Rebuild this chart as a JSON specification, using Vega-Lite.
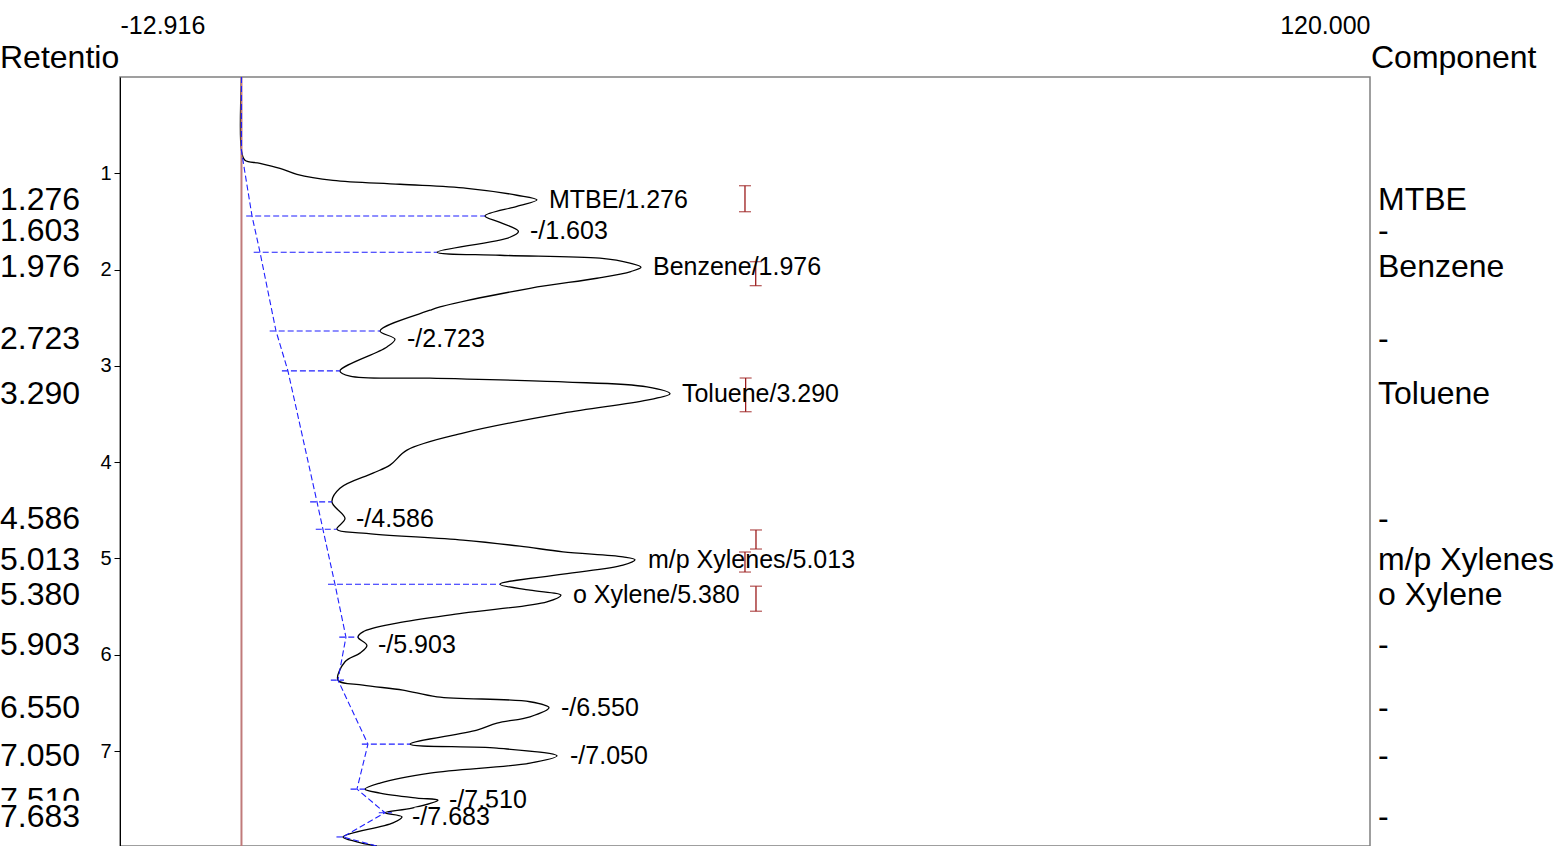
{
  "$schema": "https://vega.github.io/schema/vega-lite/v6.json",
  "width": 1250,
  "height": 769,
  "autosize": {"type": "none"},
  "padding": {"left": 120, "top": 77, "right": 187, "bottom": 0},
  "background": "white",
  "config": {
    "font": "Liberation Sans",
    "view": {"stroke": "#808080", "strokeWidth": 1.5},
    "axis": {"grid": false, "labelColor": "black", "tickColor": "black", "domainColor": "black"},
    "axisX": {"labelFontSize": 25, "ticks": false, "domain": false, "labelPadding": 39, "labelFlush": true},
    "axisY": {"labelFontSize": 20, "tickSize": 6, "labelPadding": 3, "domainWidth": 1}
  },
  "datasets": {
    "trace": [
      {"v": 0, "t": 0}, {"v": 0, "t": 0.761}, {"v": 0.37, "t": 0.865}, {"v": 1.97, "t": 0.896},
      {"v": 4.09, "t": 0.948}, {"v": 5.9, "t": 1.01}, {"v": 9.73, "t": 1.073}, {"v": 16.85, "t": 1.114},
      {"v": 23.98, "t": 1.156}, {"v": 29.29, "t": 1.228}, {"v": 31.42, "t": 1.276}, {"v": 29.29, "t": 1.343},
      {"v": 25.89, "t": 1.443}, {"v": 27.49, "t": 1.509}, {"v": 29.45, "t": 1.603}, {"v": 28.55, "t": 1.664},
      {"v": 20.79, "t": 1.82}, {"v": 27.49, "t": 1.851}, {"v": 38.12, "t": 1.882}, {"v": 41.31, "t": 1.934},
      {"v": 42.48, "t": 1.976}, {"v": 41.4, "t": 2.02}, {"v": 37.8, "t": 2.09}, {"v": 30.68, "t": 2.194},
      {"v": 21.11, "t": 2.388}, {"v": 20.05, "t": 2.422}, {"v": 14.73, "t": 2.637}, {"v": 16.32, "t": 2.723},
      {"v": 15.47, "t": 2.803}, {"v": 10.47, "t": 3.052}, {"v": 11.54, "t": 3.107}, {"v": 20.05, "t": 3.128},
      {"v": 34.19, "t": 3.166}, {"v": 43.12, "t": 3.218}, {"v": 45.57, "t": 3.29}, {"v": 43.12, "t": 3.356},
      {"v": 34.19, "t": 3.491}, {"v": 23.55, "t": 3.698}, {"v": 17.6, "t": 3.875}, {"v": 15.79, "t": 4.031},
      {"v": 13.98, "t": 4.114}, {"v": 10.47, "t": 4.27}, {"v": 9.62, "t": 4.412}, {"v": 11.01, "t": 4.586},
      {"v": 10.15, "t": 4.696}, {"v": 12.92, "t": 4.737}, {"v": 23.55, "t": 4.81}, {"v": 29.61, "t": 4.872},
      {"v": 34.19, "t": 4.931}, {"v": 40.57, "t": 4.983}, {"v": 41.85, "t": 5.013}, {"v": 40.57, "t": 5.07},
      {"v": 34.19, "t": 5.163}, {"v": 27.49, "t": 5.267}, {"v": 30.68, "t": 5.329}, {"v": 33.97, "t": 5.38},
      {"v": 32.48, "t": 5.45}, {"v": 23.55, "t": 5.568}, {"v": 16.53, "t": 5.672}, {"v": 12.92, "t": 5.762},
      {"v": 12.39, "t": 5.817}, {"v": 13.34, "t": 5.903}, {"v": 12.6, "t": 5.983}, {"v": 11.01, "t": 6.073},
      {"v": 10.26, "t": 6.263}, {"v": 12.92, "t": 6.315}, {"v": 17.17, "t": 6.367}, {"v": 20.79, "t": 6.437},
      {"v": 30.68, "t": 6.488}, {"v": 32.7, "t": 6.55}, {"v": 30.68, "t": 6.644}, {"v": 27.17, "t": 6.71},
      {"v": 25.04, "t": 6.782}, {"v": 17.92, "t": 6.928}, {"v": 27.17, "t": 6.97}, {"v": 33.55, "t": 7.05},
      {"v": 30.68, "t": 7.125}, {"v": 20.05, "t": 7.229}, {"v": 14.73, "t": 7.332}, {"v": 13.14, "t": 7.395},
      {"v": 14.73, "t": 7.436}, {"v": 18.66, "t": 7.488}, {"v": 20.89, "t": 7.51}, {"v": 18.13, "t": 7.592},
      {"v": 15.26, "t": 7.641}, {"v": 17.07, "t": 7.683}, {"v": 16.11, "t": 7.746}, {"v": 10.79, "t": 7.892},
      {"v": 12.28, "t": 7.942}, {"v": 14.41, "t": 7.987}
    ],
    "baseline": [
      {"v": 0, "t": 0}, {"v": 0, "t": 0.771}, {"v": 1.12, "t": 1.443}, {"v": 1.97, "t": 1.82},
      {"v": 3.67, "t": 2.637}, {"v": 4.94, "t": 3.052}, {"v": 8.03, "t": 4.412}, {"v": 8.66, "t": 4.696},
      {"v": 9.94, "t": 5.267}, {"v": 11.11, "t": 5.817}, {"v": 10.26, "t": 6.263}, {"v": 13.45, "t": 6.928},
      {"v": 12.28, "t": 7.395}, {"v": 15.26, "t": 7.641}, {"v": 10.79, "t": 7.892}, {"v": 14.41, "t": 7.987}
    ],
    "drops": [
      {"t": 1.443, "xa": 0.5, "xb": 25.89}, {"t": 1.82, "xa": 1.3, "xb": 20.79},
      {"t": 2.637, "xa": 3.0, "xb": 14.73}, {"t": 3.052, "xa": 4.3, "xb": 10.47},
      {"t": 4.412, "xa": 7.3, "xb": 9.62}, {"t": 4.696, "xa": 7.9, "xb": 10.15},
      {"t": 5.267, "xa": 9.2, "xb": 27.49}, {"t": 5.817, "xa": 10.4, "xb": 12.39},
      {"t": 6.263, "xa": 9.5, "xb": 10.9}, {"t": 6.928, "xa": 12.8, "xb": 17.92},
      {"t": 7.395, "xa": 11.6, "xb": 13.14}, {"t": 7.641, "xa": 14.6, "xb": 16.0},
      {"t": 7.892, "xa": 10.1, "xb": 11.0}
    ],
    "bars": [
      {"v": 53.54, "t": 1.129, "t2": 1.399}, {"v": 54.68, "t": 1.918, "t2": 2.167},
      {"v": 53.61, "t": 3.126, "t2": 3.476}, {"v": 54.71, "t": 4.704, "t2": 4.902},
      {"v": 53.54, "t": 4.933, "t2": 5.141}, {"v": 54.71, "t": 5.288, "t2": 5.548}
    ],
    "peaks": [
      {"t": 1.276, "v": 31.42, "rt": "1.276", "comp": "MTBE", "label": "MTBE/1.276"},
      {"t": 1.603, "v": 29.4, "rt": "1.603", "comp": "-", "label": "-/1.603"},
      {"t": 1.976, "v": 42.48, "rt": "1.976", "comp": "Benzene", "label": "Benzene/1.976"},
      {"t": 2.723, "v": 16.33, "rt": "2.723", "comp": "-", "label": "-/2.723"},
      {"t": 3.29, "v": 45.56, "rt": "3.290", "comp": "Toluene", "label": "Toluene/3.290"},
      {"t": 4.586, "v": 10.9, "rt": "4.586", "comp": "-", "label": "-/4.586"},
      {"t": 5.013, "v": 41.95, "rt": "5.013", "comp": "m/p Xylenes", "label": "m/p Xylenes/5.013"},
      {"t": 5.38, "v": 33.97, "rt": "5.380", "comp": "o Xylene", "label": "o Xylene/5.380"},
      {"t": 5.903, "v": 13.24, "rt": "5.903", "comp": "-", "label": "-/5.903"},
      {"t": 6.55, "v": 32.7, "rt": "6.550", "comp": "-", "label": "-/6.550"},
      {"t": 7.05, "v": 33.66, "rt": "7.050", "comp": "-", "label": "-/7.050"},
      {"t": 7.51, "v": 20.79, "rt": "7.510", "comp": "", "label": "-/7.510"},
      {"t": 7.683, "v": 16.86, "rt": "7.683", "comp": "-", "label": "-/7.683"}
    ]
  },
  "layer": [
    {
      "data": {"name": "trace"},
      "mark": {"type": "line", "color": "black", "strokeWidth": 1.3, "interpolate": "catmull-rom"},
      "encoding": {
        "x": {"field": "v", "type": "quantitative", "title": null,
          "scale": {"domain": [-12.916, 120], "nice": false, "zero": false},
          "axis": {"orient": "top", "values": [-12.916, 120], "format": ".3f",
            "labelExpr": "replace(datum.label, '\u2212', '-')", "labelFlush": true,
            "ticks": false, "domain": false, "grid": false, "title": null, "labelFontSize": 25,
            "labelColor": "black", "labelPadding": 39}},
        "y": {"field": "t", "type": "quantitative", "title": null,
          "scale": {"domain": [0, 7.986], "nice": false, "zero": false, "reverse": true},
          "axis": {"orient": "left", "values": [1, 2, 3, 4, 5, 6, 7], "format": "d", "tickSize": 6, "labelPadding": 3,
            "labelFontSize": 20, "labelColor": "black", "tickColor": "black", "domainColor": "black",
            "grid": false, "title": null}},
        "order": {"field": "t", "type": "quantitative"}
      }
    },
    {
      "mark": {"type": "rule", "color": "#c07a7a", "strokeWidth": 2},
      "data": {"values": [{"z": 0}]},
      "encoding": {
        "x": {"field": "z", "type": "quantitative", "title": null, "scale": {"domain": [-12.916, 120], "nice": false, "zero": false}}
      }
    },
    {
      "data": {"name": "bars"},
      "mark": {"type": "rule", "color": "#9b1c1c", "strokeWidth": 1.3},
      "encoding": {
        "x": {"field": "v", "type": "quantitative", "title": null, "scale": {"domain": [-12.916, 120], "nice": false, "zero": false}},
        "y": {"field": "t", "type": "quantitative", "title": null, "scale": {"domain": [0, 7.986], "nice": false, "zero": false, "reverse": true}},
        "y2": {"field": "t2"}
      }
    },
    {
      "data": {"name": "bars"},
      "mark": {"type": "tick", "color": "#9b1c1c", "orient": "horizontal", "size": 12, "thickness": 1.3},
      "encoding": {
        "x": {"field": "v", "type": "quantitative", "title": null, "scale": {"domain": [-12.916, 120], "nice": false, "zero": false}},
        "y": {"field": "t", "type": "quantitative", "title": null, "scale": {"domain": [0, 7.986], "nice": false, "zero": false, "reverse": true}}
      }
    },
    {
      "data": {"name": "bars"},
      "mark": {"type": "tick", "color": "#9b1c1c", "orient": "horizontal", "size": 12, "thickness": 1.3},
      "encoding": {
        "x": {"field": "v", "type": "quantitative", "title": null, "scale": {"domain": [-12.916, 120], "nice": false, "zero": false}},
        "y": {"field": "t2", "type": "quantitative", "title": null, "scale": {"domain": [0, 7.986], "nice": false, "zero": false, "reverse": true}}
      }
    },
    {
      "data": {"name": "drops"},
      "mark": {"type": "rule", "color": "#1f1fff", "strokeWidth": 1.1, "strokeDash": [6, 3]},
      "encoding": {
        "x": {"field": "xa", "type": "quantitative", "title": null, "scale": {"domain": [-12.916, 120], "nice": false, "zero": false}},
        "x2": {"field": "xb"},
        "y": {"field": "t", "type": "quantitative", "title": null, "scale": {"domain": [0, 7.986], "nice": false, "zero": false, "reverse": true}}
      }
    },
    {
      "data": {"name": "baseline"},
      "mark": {"type": "line", "color": "#1f1fff", "strokeWidth": 1.1, "strokeDash": [6, 3]},
      "encoding": {
        "x": {"field": "v", "type": "quantitative", "title": null, "scale": {"domain": [-12.916, 120], "nice": false, "zero": false}},
        "y": {"field": "t", "type": "quantitative", "title": null, "scale": {"domain": [0, 7.986], "nice": false, "zero": false, "reverse": true}},
        "order": {"field": "t", "type": "quantitative"}
      }
    },
    {
      "data": {"name": "peaks"},
      "transform": [{"filter": "datum.rt != '7.683'"}],
      "mark": {"type": "text", "align": "left", "baseline": "middle", "dx": 12, "fontSize": 25, "color": "black"},
      "encoding": {
        "x": {"field": "v", "type": "quantitative", "title": null, "scale": {"domain": [-12.916, 120], "nice": false, "zero": false}},
        "y": {"field": "t", "type": "quantitative", "title": null, "scale": {"domain": [0, 7.986], "nice": false, "zero": false, "reverse": true}},
        "text": {"field": "label"}
      }
    },
    {
      "data": {"name": "peaks"},
      "transform": [{"filter": "datum.rt != '7.683'"}],
      "mark": {"type": "text", "align": "left", "baseline": "middle", "fontSize": 32, "color": "black"},
      "encoding": {
        "x": {"datum": -25.676, "type": "quantitative", "title": null, "scale": {"domain": [-12.916, 120], "nice": false, "zero": false}},
        "y": {"field": "t", "type": "quantitative", "title": null, "scale": {"domain": [0, 7.986], "nice": false, "zero": false, "reverse": true}},
        "text": {"field": "rt"}
      }
    },
    {
      "data": {"values": [{"k": 1}]},
      "mark": {"type": "rect", "color": "white", "opacity": 1},
      "encoding": {
        "x": {"datum": -25.676, "type": "quantitative", "title": null, "scale": {"domain": [-12.916, 120], "nice": false, "zero": false}},
        "x2": {"datum": -16.9},
        "y": {"datum": 7.515, "type": "quantitative", "title": null, "scale": {"domain": [0, 7.986], "nice": false, "zero": false, "reverse": true}},
        "y2": {"datum": 7.86}
      }
    },
    {
      "data": {"values": [{"k": 1}]},
      "mark": {"type": "rect", "color": "white", "opacity": 1},
      "encoding": {
        "x": {"datum": 18.4, "type": "quantitative", "title": null, "scale": {"domain": [-12.916, 120], "nice": false, "zero": false}},
        "x2": {"datum": 26.9},
        "y": {"datum": 7.585, "type": "quantitative", "title": null, "scale": {"domain": [0, 7.986], "nice": false, "zero": false, "reverse": true}},
        "y2": {"datum": 7.8}
      }
    },
    {
      "data": {"name": "peaks"},
      "transform": [{"filter": "datum.rt == '7.683'"}],
      "mark": {"type": "text", "align": "left", "baseline": "middle", "dx": 12, "fontSize": 25, "color": "black"},
      "encoding": {
        "x": {"field": "v", "type": "quantitative", "title": null, "scale": {"domain": [-12.916, 120], "nice": false, "zero": false}},
        "y": {"field": "t", "type": "quantitative", "title": null, "scale": {"domain": [0, 7.986], "nice": false, "zero": false, "reverse": true}},
        "text": {"field": "label"}
      }
    },
    {
      "data": {"name": "peaks"},
      "transform": [{"filter": "datum.rt == '7.683'"}],
      "mark": {"type": "text", "align": "left", "baseline": "middle", "fontSize": 32, "color": "black"},
      "encoding": {
        "x": {"datum": -25.676, "type": "quantitative", "title": null, "scale": {"domain": [-12.916, 120], "nice": false, "zero": false}},
        "y": {"field": "t", "type": "quantitative", "title": null, "scale": {"domain": [0, 7.986], "nice": false, "zero": false, "reverse": true}},
        "text": {"field": "rt"}
      }
    },
    {
      "data": {"name": "peaks"},
      "mark": {"type": "text", "align": "left", "baseline": "middle", "fontSize": 32, "color": "black"},
      "encoding": {
        "x": {"datum": 120.851, "type": "quantitative", "title": null, "scale": {"domain": [-12.916, 120], "nice": false, "zero": false}},
        "y": {"field": "t", "type": "quantitative", "title": null, "scale": {"domain": [0, 7.986], "nice": false, "zero": false, "reverse": true}},
        "text": {"field": "comp"}
      }
    },
    {
      "data": {"values": [{"h": "Retentio", "hv": -25.676}, {"h": "Component", "hv": 120.107}]},
      "mark": {"type": "text", "align": "left", "baseline": "middle", "fontSize": 32, "color": "black"},
      "encoding": {
        "x": {"field": "hv", "type": "quantitative", "title": null, "scale": {"domain": [-12.916, 120], "nice": false, "zero": false}},
        "y": {"datum": -0.197, "type": "quantitative", "title": null, "scale": {"domain": [0, 7.986], "nice": false, "zero": false, "reverse": true}},
        "text": {"field": "h"}
      }
    }
  ]
}
